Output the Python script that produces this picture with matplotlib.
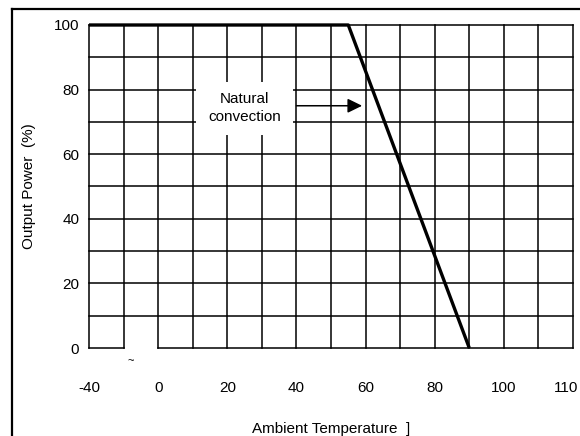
import matplotlib.pyplot as plt
from matplotlib.lines import Line2D
from matplotlib.patches import Rectangle

plt.rcParams["font.family"] = ["Liberation Sans", "DejaVu Sans"]

# derating curve
temps = [-40, 55, 90]
power = [100, 100, 0]

x_tick_labels = ["-40", "0", "20", "40", "60", "80", "100", "110"]
x_tick_temps = [-40, 0, 20, 40, 60, 80, 100, 118]
y_ticks = [0, 20, 40, 60, 80, 100]


def tpos(t):
    # axis is broken between -30 and 0: one cell stands for the gap
    return t if t >= 0 else t + 20


fig = plt.figure(figsize=(5.8, 4.36), dpi=100)
ax = fig.add_axes([89 / 580, 1 - 348 / 436, 484 / 580, 323 / 436])
ax.set_xlim(-20, 120)
ax.set_ylim(0, 100)
for s in ax.spines.values():
    s.set_visible(False)

lw = 1.1
# grid
for y in range(10, 101, 10):
    ax.plot([-20, 120], [y, y], color="black", lw=lw, clip_on=False, zorder=1)
ax.plot([-20, -10], [0, 0], color="black", lw=lw, clip_on=False, zorder=1)
ax.plot([0, 120], [0, 0], color="black", lw=lw, clip_on=False, zorder=1)
for x in range(-20, 121, 10):
    ax.plot([x, x], [0, 100], color="black", lw=lw, clip_on=False, zorder=1)

# curve
ax.plot([tpos(t) for t in temps], power, color="black", lw=2.4,
        solid_capstyle="butt", clip_on=False, zorder=3)

# label with white box and arrow
ax.add_patch(Rectangle((11, 66), 28, 16.5, facecolor="white",
                       edgecolor="none", zorder=2))
ax.text(25, 74.3, "Natural\nconvection", ha="center", va="center",
        fontsize=11, linespacing=1.3, zorder=4)
ax.annotate("", xy=(59, 75), xytext=(40, 75),
            arrowprops=dict(arrowstyle="-|>,head_length=0.55,head_width=0.27",
                            color="black", lw=1.1,
                            mutation_scale=16, shrinkA=0, shrinkB=0),
            zorder=4)

ax.text(-8, -4, "~", ha="center", va="center", fontsize=8)

ax.set_xticks([tpos(t) for t in x_tick_temps])
ax.set_xticklabels(x_tick_labels, fontsize=11)
ax.set_yticks(y_ticks)
ax.set_yticklabels([str(v) for v in y_ticks], fontsize=11)
ax.tick_params(length=0, pad=7)
ax.tick_params(axis="x", pad=24)

ax.set_xlabel("Ambient Temperature  ]", fontsize=11, labelpad=19)
ax.set_ylabel("Output Power  (%)", fontsize=11, labelpad=13)

# outer frame (cropped on right and bottom)
fig.add_artist(Line2D([12 / 580, 12 / 580], [0, 1 - 9 / 436],
                      transform=fig.transFigure, color="black", lw=1.6))
fig.add_artist(Line2D([12 / 580, 1], [1 - 9 / 436, 1 - 9 / 436],
                      transform=fig.transFigure, color="black", lw=1.6))

fig.savefig("out.png", dpi=100)
